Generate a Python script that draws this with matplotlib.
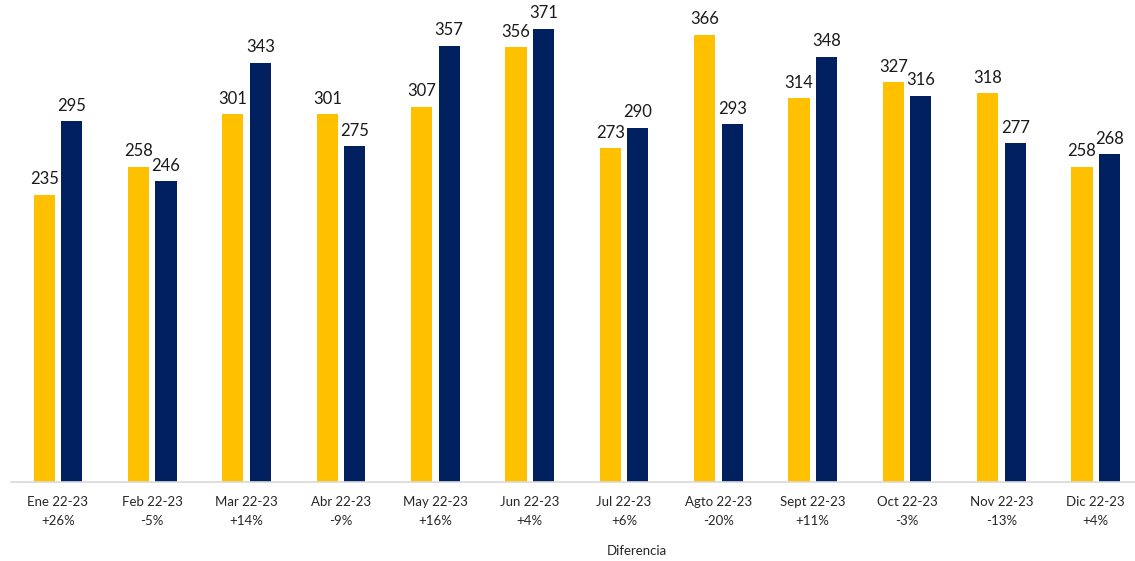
import numpy as np
import matplotlib.pyplot as plt

plt.rcParams['font.family'] = ['Lato', 'DejaVu Sans']

meses = ['Ene 22-23', 'Feb 22-23', 'Mar 22-23', 'Abr 22-23', 'May 22-23', 'Jun 22-23',
         'Jul 22-23', 'Agto 22-23', 'Sept 22-23', 'Oct 22-23', 'Nov 22-23', 'Dic 22-23']
valores_2022 = [235, 258, 301, 301, 307, 356, 273, 366, 314, 327, 318, 258]
valores_2023 = [295, 246, 343, 275, 357, 371, 290, 293, 348, 316, 277, 268]
diferencia = ['+26%', '-5%', '+14%', '-9%', '+16%', '+4%', '+6%', '-20%', '+11%', '-3%', '-13%', '+4%']

amarillo = '#FFC000'
azul = '#002060'

fig = plt.figure(figsize=(11.35, 5.61), dpi=100)
ax = fig.add_axes([0.0095, 0.141, 0.9975, 0.859])

x = np.arange(len(meses))
w = 0.225
off = 0.146
b1 = ax.bar(x - off, valores_2022, w, color=amarillo)
b2 = ax.bar(x + off, valores_2023, w, color=azul)

for bars in (b1, b2):
    for b in bars:
        ax.text(b.get_x() + b.get_width() / 2, b.get_height() + 6, str(int(b.get_height())),
                ha='center', va='bottom', fontsize=12, color='#1a1a1a')

ax.set_xlim(-0.5, len(meses) - 0.5)
ax.set_ylim(0, 394.4)
ax.set_xticks(x)
ax.set_xticklabels(meses, fontsize=9.5, color='#262626')
ax.tick_params(axis='x', length=0, pad=10)
ax.set_yticks([])
for s in ['top', 'right', 'left']:
    ax.spines[s].set_visible(False)
ax.spines['bottom'].set_color('#d9d9d9')
ax.spines['bottom'].set_linewidth(1.2)

# fila de diferencias bajo las etiquetas
for i, d in enumerate(diferencia):
    ax.annotate(d, xy=(i, 0), xycoords=('data', 'axes fraction'), xytext=(0, -28),
                textcoords='offset points', ha='center', va='center', fontsize=9.5, color='#262626')

fig.text(0.5615, 1 - 551 / 561, 'Diferencia', ha='center', va='center', fontsize=9.5, color='#262626')

fig.savefig('out.png', dpi=100)
